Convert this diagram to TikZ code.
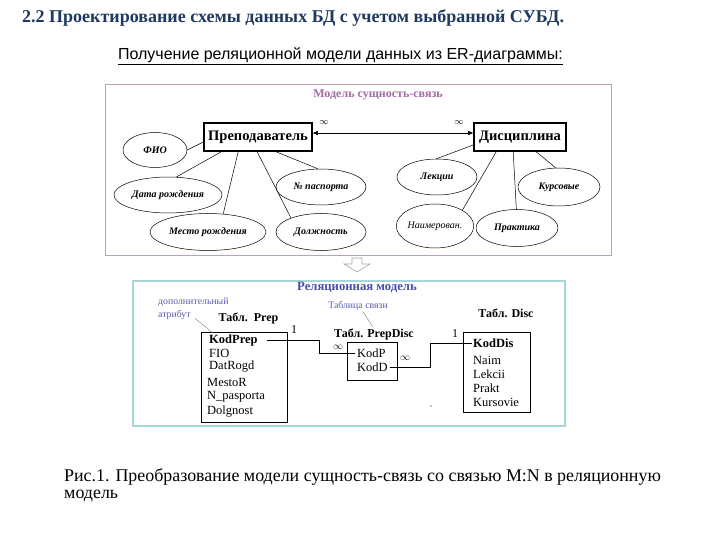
\documentclass[tikz,border=0pt]{standalone}
\usepackage{fontspec}
\setmainfont{Liberation Serif}
\newfontfamily\arialf{Liberation Sans}
\usetikzlibrary{shapes.geometric,arrows.meta,calc}
\definecolor{titleblue}{HTML}{1F3A60}
\definecolor{ermauve}{HTML}{A46AA4}
\definecolor{erborder}{HTML}{B9A3B9}
\definecolor{relborder}{HTML}{A6D6D8}
\definecolor{relblue}{HTML}{4A4AA8}
\definecolor{noteblue}{HTML}{5A5AB0}
\tikzset{
  ent/.style={draw, line width=1.6pt, minimum width=108pt, minimum height=28pt, inner sep=0pt, font=\fontsize{14.5}{14.5}\selectfont\bfseries},
  attr/.style={draw, ellipse, line width=0.5pt, inner sep=0pt, font=\fontsize{10}{10}\selectfont\bfseries\itshape},
  erline/.style={line width=0.5pt},
  tbl/.style={draw, line width=0.7pt, inner sep=0pt},
  fld/.style={anchor=west, inner sep=0pt, font=\fontsize{12.5}{12.5}\selectfont},
  tbltitle/.style={inner sep=0pt, font=\fontsize{12}{12}\selectfont\bfseries},
  note/.style={inner sep=0pt, text=noteblue, font=\fontsize{9.8}{13}\selectfont, align=left},
  relline/.style={line width=0.7pt},
  card/.style={inner sep=0pt, font=\fontsize{9}{9}\selectfont}
}
\begin{document}
\begin{tikzpicture}[x=1pt,y=-1pt]
\useasboundingbox[fill=white] (0,0) rectangle (720,540);

% headings
\node[anchor=west, inner sep=0pt, text=titleblue, font=\fontsize{18}{18}\selectfont\bfseries] (h1) at (22,18) {2.2 Проектирование схемы данных БД с учетом выбранной СУБД.};
\node[inner sep=0pt, font=\arialf\fontsize{16}{16}\selectfont] (h2) at (340.5,56) {\underline{Получение реляционной модели данных из ER-диаграммы:}};

% ER frame
\node[draw=erborder, line width=1pt, minimum width=506pt, minimum height=170pt, inner sep=0pt] (erframe) at (358,170) {};
\node[inner sep=0pt, text=ermauve, font=\fontsize{12}{12}\selectfont\bfseries] (ertitle) at (378,95) {Модель сущность-связь};

\node[ent] (prep) at (258,137) {Преподаватель};
\node[ent, minimum width=92pt] (disc) at (520,137) {Дисциплина};
\draw[erline, {Triangle[length=5pt,width=4pt]}-{Triangle[length=5pt,width=4pt]}] ([yshift=4pt]prep.east) -- ([yshift=4pt]disc.west);
\node[card] (inf1) at (324,123) {$\infty$};
\node[card] (inf2) at (459,123) {$\infty$};

\node[attr, minimum width=64pt, minimum height=35pt] (fio) at (155,150) {ФИО};
\node[attr, minimum width=108pt, minimum height=36pt] (dr) at (168,195) {Дата рождения};
\node[attr, minimum width=116pt, minimum height=37pt] (mr) at (208,232) {Место рождения};
\node[attr, minimum width=90pt, minimum height=36pt] (np) at (321,187) {№ паспорта};
\node[attr, minimum width=90pt, minimum height=37pt] (dl) at (321,232) {Должность};
\node[attr, minimum width=80pt, minimum height=36pt] (lk) at (437,177) {Лекции};
\node[attr, minimum width=64pt, minimum height=44pt, font=\fontsize{10}{10}\selectfont\itshape] (nm) at (435,226) {Наимерован.};
\node[attr, minimum width=82pt, minimum height=37pt] (pr) at (517,228) {Практика};
\node[attr, minimum width=82pt, minimum height=38pt] (ks) at (559,187) {Курсовые};

\draw[erline] ([yshift=-5pt]prep.west) -- (fio.0);
\draw[erline] ([xshift=18pt]prep.south west) -- (dr.65);
\draw[erline] ([xshift=35pt]prep.south west) -- (mr.50);
\draw[erline] ([xshift=54pt]prep.south west) -- (dl.155);
\draw[erline] ([xshift=73pt]prep.south west) -- (np.100);
\draw[erline] ([yshift=-8pt]disc.west) -- (lk.92);
\draw[erline] ([xshift=23pt]disc.south west) -- (nm.30);
\draw[erline] ([xshift=40pt]disc.south west) -- (pr.92);
\draw[erline] ([xshift=63pt]disc.south west) -- (ks.100);

% transition arrow
\draw[line width=0.6pt, draw=gray!70] (352,258) -- (362,258) -- (362,264) -- (370,264) -- (357,272) -- (344,264) -- (352,264) -- cycle;

% relational frame
\node[draw=relborder, line width=1.2pt, minimum width=432pt, minimum height=145pt, inner sep=0pt] (relframe) at (349,353.5) {};
\node[inner sep=0pt, text=relblue, font=\fontsize{12.7}{12.7}\selectfont\bfseries] (reltitle) at (357,287) {Реляционная модель};

% Prep table
\node[note, anchor=north west] (n1) at (158,298) {дополнительный\\атрибут};
\node[tbltitle] (tp) at (248.5,318) {Табл.\ \ Prep};
\node[tbl, minimum width=86pt, minimum height=90pt] (tprep) at (244,377) {};
\node[fld, font=\fontsize{12.5}{12.5}\selectfont\bfseries] (kodprep) at (209,340) {KodPrep};
\node[fld] (fio2) at (209,353) {FIO};
\node[fld] (datr) at (209,367) {DatRogd};
\node[fld] (mestor) at (207,382) {MestoR};
\node[fld] (npas) at (207,397) {N\_pasporta};
\node[fld] (dolg) at (207,412) {Dolgnost};
\draw[line width=0.4pt, gray] ([xshift=37pt,yshift=2pt]n1.south west) -- ([xshift=4pt,yshift=1pt]kodprep.north west);

% PrepDisc table
\node[note] (n2) at (358,306) {Таблица связи};
\node[tbltitle] (tpd) at (374,334) {Табл. PrepDisc};
\node[tbl, minimum width=50pt, minimum height=38pt] (tpdisc) at (372,361) {};
\node[fld] (kodp) at (357,353) {KodP};
\node[fld] (kodd) at (357,367) {KodD};
\draw[line width=0.4pt, gray] ([xshift=5pt,yshift=-1pt]n2.south) -- ([xshift=-1pt,yshift=1pt]tpd.north);

% Disc table
\node[tbltitle] (td) at (506,313) {Табл. Disc};
\node[tbl, minimum width=67pt, minimum height=80pt] (tdisc) at (496.5,372) {};
\node[fld, font=\fontsize{12.5}{12.5}\selectfont\bfseries] (koddis) at (473,343) {KodDis};
\node[fld] (naim) at (473,360) {Naim};
\node[fld] (lek) at (473,374) {Lekcii};
\node[fld] (prakt) at (473,388) {Prakt};
\node[fld] (kurs) at (473,402) {Kursovie};

% links
\draw[relline] ([xshift=9pt]kodprep.east) -- ++(53,0) |- ([xshift=-2pt]kodp.west);
\draw[relline] ([xshift=2pt]kodd.east) -- ++(40,0) |- ([xshift=-1pt]koddis.west);
\node[card, font=\fontsize{12}{12}\selectfont] (one1) at (294,330) {1};
\node[card, font=\fontsize{10}{10}\selectfont] (inf3) at (338,347) {$\infty$};
\node[card, font=\fontsize{10}{10}\selectfont] (inf4) at (405,358) {$\infty$};
\node[card, font=\fontsize{12}{12}\selectfont] (one2) at (455,334) {1};
\fill (431,406) circle (0.6pt);

% caption
\node[anchor=west, inner sep=0pt, font=\fontsize{17.9}{17.9}\selectfont] (cap1) at (64,477) {Рис.1. Преобразование модели сущность-связь со связью M:N в реляционную};
\node[anchor=west, inner sep=0pt, font=\fontsize{17.9}{17.9}\selectfont] (cap2) at (64,496) {модель};
\end{tikzpicture}
\end{document}
